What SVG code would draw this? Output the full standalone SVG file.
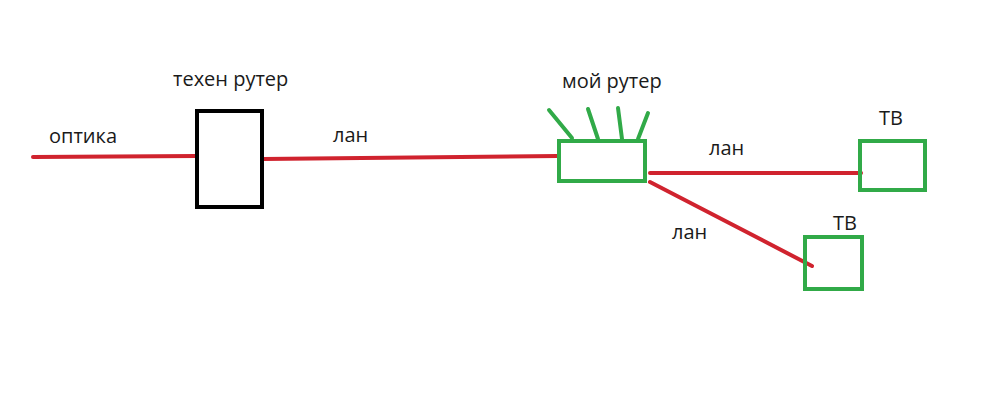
<svg xmlns="http://www.w3.org/2000/svg" width="1000" height="411" viewBox="0 0 1000 411">
<style>
.bg{fill:#ffffff}
.wire{stroke:#d0232e;stroke-width:4;stroke-linecap:round;fill:none}
.gbox{fill:none;stroke:#31aa48;stroke-width:4}
.bbox{fill:none;stroke:#000000;stroke-width:4}
.lbl{font-family:"Open Sans","Liberation Sans",sans-serif;font-size:20px;fill:#1a1a1a}
</style>
<rect class="bg" x="0" y="0" width="1000" height="411"/>
<g id="connectors">
<path class="wire" d="M33 157 L197 156"/>
<path class="wire" d="M263 159 L558 156"/>
<path class="wire" d="M650 173 L861 173"/>
<path class="wire" d="M650 182 L812 266"/>
</g>
<g id="optika-label"><text class="lbl" x="49" y="143">оптика</text></g>
<g id="tehen-router">
<rect class="bbox" x="197" y="111" width="65" height="96"/>
<text class="lbl" x="173" y="86">техен рутер</text>
</g>
<g id="lan-label-1"><text class="lbl" x="333" y="142">лан</text></g>
<g id="my-router">
<rect class="gbox" x="559" y="141" width="86" height="40"/>
<path class="gbox" d="M549 110 L572 138 M588 109 L598 139 M618 108 L622 139 M648 113 L638 139" stroke-linecap="round"/>
<text class="lbl" x="562" y="88">мой рутер</text>
</g>
<g id="lan-label-2"><text class="lbl" x="709" y="155">лан</text></g>
<g id="tv-1">
<rect class="gbox" x="860" y="141" width="65" height="49"/>
<text class="lbl" x="879" y="125">ТВ</text>
</g>
<g id="lan-label-3"><text class="lbl" x="672" y="239">лан</text></g>
<g id="tv-2">
<rect class="gbox" x="805" y="237" width="57" height="52"/>
<text class="lbl" x="833" y="230">ТВ</text>
</g>
</svg>
